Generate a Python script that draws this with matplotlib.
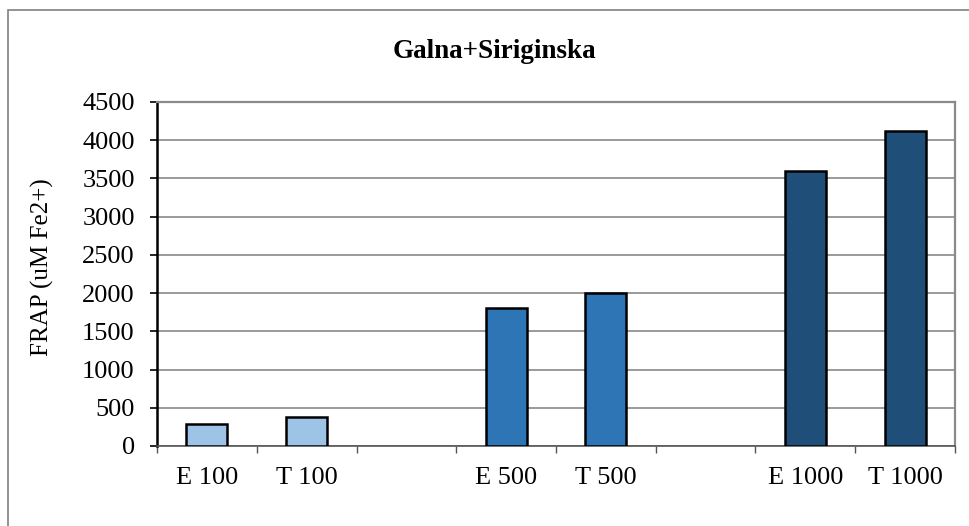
import numpy as np
import matplotlib
matplotlib.use("Agg")
import matplotlib.pyplot as plt
from matplotlib.patches import Rectangle

# chart data
labels = ["E 100", "T 100", "", "E 500", "T 500", "", "E 1000", "T 1000"]
values = [283, 375, np.nan, 1810, 1995, np.nan, 3600, 4115]
colors = ["#9DC3E6", "#9DC3E6", None, "#2E75B6", "#2E75B6", None, "#1F4E79", "#1F4E79"]
yticks = [0, 500, 1000, 1500, 2000, 2500, 3000, 3500, 4000, 4500]

plt.rcParams["font.family"] = ["Liberation Serif", "DejaVu Serif"]

fig = plt.figure(figsize=(9.7, 5.26), dpi=100)
ax = fig.add_axes([157 / 970, 1 - 446 / 526, (955 - 157) / 970, (446 - 102) / 526])

# outer chart frame (only left/top visible in the original)
fig.patches.append(Rectangle((8 / 970, -0.1), 1.2, 1 - 10 / 526 + 0.1,
                             transform=fig.transFigure, fill=False,
                             edgecolor="#808080", linewidth=1.2))

x = np.arange(len(labels))
for xi, v, c in zip(x, values, colors):
    if np.isnan(v):
        continue
    ax.bar(xi, v, width=0.41, color=c, edgecolor="black", linewidth=1.8, zorder=3)

ax.set_xlim(-0.5, len(labels) - 0.5)
ax.set_ylim(0, 4500)
ax.set_yticks(yticks)
ax.yaxis.grid(True, color="#7f7f7f", linewidth=1.1, zorder=0)
ax.set_axisbelow(True)

ax.set_xticks(x)
ax.set_xticklabels(labels, fontsize=19)
ax.set_xticks(np.arange(len(labels) + 1) - 0.5, minor=True)
ax.tick_params(axis="x", which="major", length=0, pad=15)
ax.tick_params(axis="x", which="minor", length=5, width=1, color="#555555")
ax.tick_params(axis="y", labelsize=19, length=5, width=1.2, pad=11)

for s in ["top", "right"]:
    ax.spines[s].set_color("#8a8a8a")
    ax.spines[s].set_linewidth(1.6)
ax.spines["left"].set_color("black")
ax.spines["left"].set_linewidth(1.8)
ax.spines["bottom"].set_color("#555555")
ax.spines["bottom"].set_linewidth(1.2)

ax.set_ylabel("FRAP (uM Fe2+)", fontsize=18)
ax.yaxis.set_label_coords(-0.129, 0.52)
fig.text(494 / 970, 1 - 52 / 526, "Galna+Siriginska", fontsize=19.5, fontweight="bold",
         ha="center", va="center")

fig.savefig("out.png", dpi=100)
